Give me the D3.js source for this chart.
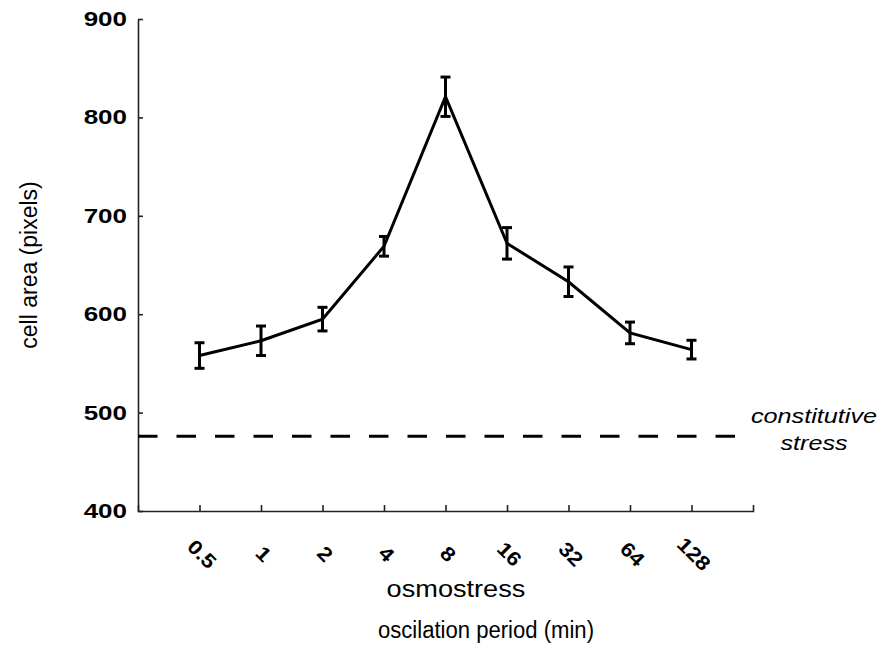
<!DOCTYPE html>
<html>
<head>
<meta charset="utf-8">
<script src="https://cdn.jsdelivr.net/npm/d3@7"></script>
<style>
  html, body { margin: 0; padding: 0; background: #fff; }
  svg { display: block; font-family: "Liberation Sans", Arial, Helvetica, sans-serif; }
</style>
</head>
<body>
<svg id="chart" width="884" height="662"></svg>
<script>
// ---- data ----
const periods = ["0.5", "1", "2", "4", "8", "16", "32", "64", "128"];
const cellArea = [558, 573, 595, 669, 821, 672, 633, 581, 564];
const errors   = [13, 15, 12, 10, 20, 16, 15, 11, 9.5];
const constitutiveLevel = 476;
const yTicks = [400, 500, 600, 700, 800, 900];

const svg = d3.select("#chart");
const x = d3.scaleLinear().domain([-1, 9]).range([138, 753]);
const y = d3.scaleLinear().domain([400, 900]).range([511, 19]);

const axisColor = "#222";

// horizontal stretch of text (reference glyphs are wider than Arial)
function stretch(sel, f) {
  sel.each(function () {
    const L = this.getComputedTextLength();
    d3.select(this).attr("textLength", L * f).attr("lengthAdjust", "spacingAndGlyphs");
  });
}

// y axis
const gy = svg.append("g")
  .attr("transform", `translate(${x(-1)},0)`)
  .call(d3.axisLeft(y).tickValues(yTicks).tickSize(-5).tickSizeOuter(0).tickPadding(11).tickFormat(d3.format("d")));
gy.select(".domain").attr("stroke", axisColor).attr("stroke-width", 1.6);
gy.selectAll(".tick line").attr("stroke", axisColor).attr("stroke-width", 1.6);
gy.selectAll(".tick text")
  .attr("font-size", 20).attr("font-weight", "bold").attr("fill", "#000")
  .attr("font-family", "'Liberation Sans', Arial, sans-serif")
  .call(stretch, 1.3);

// x axis
const gx = svg.append("g")
  .attr("transform", `translate(0,${y(400)})`)
  .call(d3.axisBottom(x).tickValues(d3.range(periods.length)).tickSize(-6).tickSizeOuter(-6)
        .tickFormat(i => periods[i]));
gx.select(".domain").attr("stroke", axisColor).attr("stroke-width", 1.6);
gx.selectAll(".tick line").attr("stroke", axisColor).attr("stroke-width", 1.6);
gx.selectAll(".tick text")
  .attr("font-size", 20).attr("font-weight", "bold").attr("fill", "#000")
  .attr("font-family", "'Liberation Sans', Arial, sans-serif")
  .attr("text-anchor", "middle")
  .attr("y", 0).attr("dy", null)
  .attr("transform", "translate(2,43) rotate(45)")
  .attr("dominant-baseline", "central")
  .call(stretch, 1.12);

// dashed constitutive stress line
svg.append("line")
  .attr("x1", x(-1)).attr("x2", x(9))
  .attr("y1", y(constitutiveLevel)).attr("y2", y(constitutiveLevel))
  .attr("stroke", "#000").attr("stroke-width", 3)
  .attr("stroke-dasharray", "19.5,19");

// data line
const line = d3.line().x((d, i) => x(i)).y(d => y(d));
svg.append("path")
  .datum(cellArea)
  .attr("d", line)
  .attr("fill", "none").attr("stroke", "#000").attr("stroke-width", 3)
  .attr("stroke-linejoin", "miter");

// error bars
const eb = svg.append("g").attr("stroke", "#000").attr("stroke-width", 3);
cellArea.forEach((v, i) => {
  const cx = x(i), top = y(v + errors[i]), bot = y(v - errors[i]);
  eb.append("line").attr("x1", cx).attr("x2", cx).attr("y1", top).attr("y2", bot);
  eb.append("line").attr("x1", cx - 5).attr("x2", cx + 5).attr("y1", top).attr("y2", top);
  eb.append("line").attr("x1", cx - 5).attr("x2", cx + 5).attr("y1", bot).attr("y2", bot);
});

// axis titles
svg.append("text")
  .attr("transform", `translate(37,265) rotate(-90)`)
  .attr("text-anchor", "middle")
  .attr("font-size", 23).attr("fill", "#000")
  .text("cell area (pixels)");

svg.append("text")
  .attr("x", 456).attr("y", 597)
  .attr("text-anchor", "middle")
  .attr("font-size", 23).attr("fill", "#000")
  .text("osmostress")
  .call(stretch, 1.18);
svg.append("text")
  .attr("x", 486).attr("y", 638)
  .attr("text-anchor", "middle")
  .attr("font-size", 23).attr("fill", "#000")
  .text("oscilation period (min)")
  .call(stretch, 0.96);

// constitutive stress label
svg.append("text")
  .attr("x", 814).attr("y", 423)
  .attr("text-anchor", "middle")
  .attr("font-size", 21).attr("font-style", "italic").attr("fill", "#000")
  .text("constitutive")
  .call(stretch, 1.2);
svg.append("text")
  .attr("x", 814).attr("y", 450)
  .attr("text-anchor", "middle")
  .attr("font-size", 21).attr("font-style", "italic").attr("fill", "#000")
  .text("stress")
  .call(stretch, 1.2);
</script>
</body>
</html>
